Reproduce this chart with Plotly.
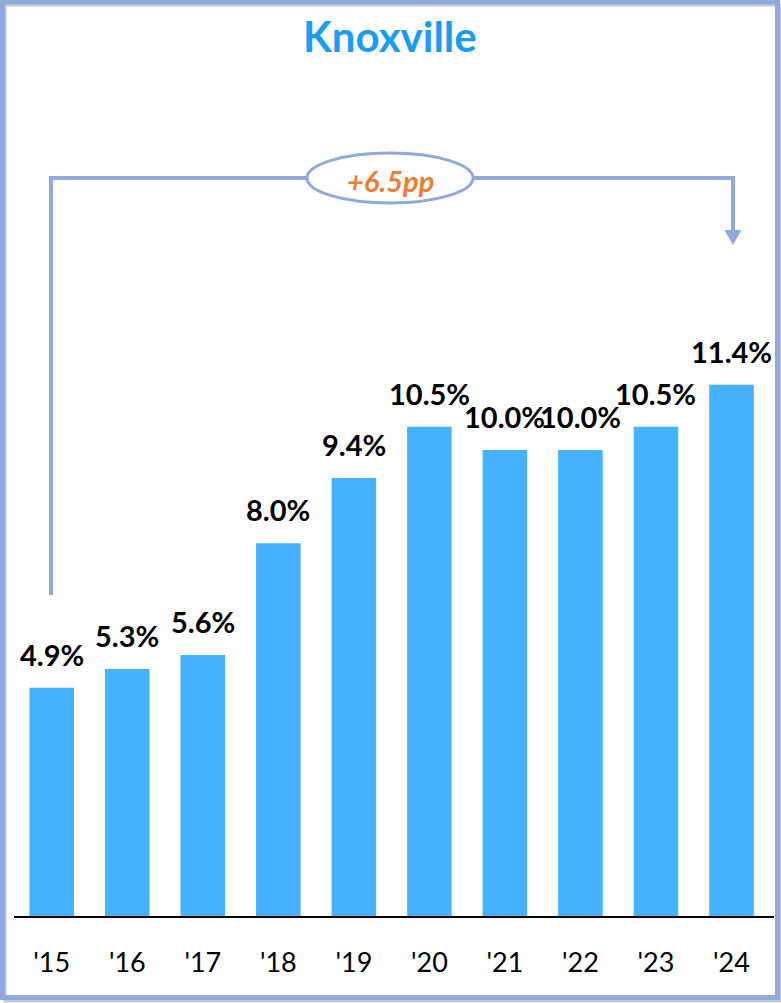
import plotly.graph_objects as go

# ---- data ----
categories = ["'15", "'16", "'17", "'18", "'19", "'20", "'21", "'22", "'23", "'24"]
values = [4.9, 5.3, 5.6, 8.0, 9.4, 10.5, 10.0, 10.0, 10.5, 11.4]
title_text = "Knoxville"
change_pp = round(values[-1] - values[0], 1)

# ---- layout geometry (pixels) ----
W, H = 781, 1003
ML, MR, MT, MB = 14, 7, 100, 87
PW, PH = W - ML - MR, H - MT - MB

def px(x):
    return (x - ML) / PW

def py(y):
    return (H - MB - y) / PH

BAR = "#45B1FF"
LINE = "#8EAADC"
ORANGE = "#ED7D31"
TITLE = "#1A9CF5"
FONT = "Lato"

fig = go.Figure()
fig.add_trace(go.Bar(
    x=categories, y=values, marker=dict(color=BAR, line=dict(width=0)),
    hoverinfo="skip", showlegend=False,
))

annotations = []
for c, v in zip(categories, values):
    annotations.append(dict(
        x=c, y=v, xref="x", yref="y", text=f"<b>{v:.1f}%</b>", showarrow=False,
        yanchor="bottom", xanchor="center", yshift=14,
        font=dict(family=FONT, size=29, color="black"),
    ))

annotations.append(dict(
    x=px(390), y=py(36), xref="paper", yref="paper", text=f"<b>{title_text}</b>",
    showarrow=False, xanchor="center", yanchor="middle",
    font=dict(family=FONT, size=42, color=TITLE),
))
annotations.append(dict(
    x=px(390), y=py(180), xref="paper", yref="paper", text=f"<b><i>+{change_pp}pp</i></b>",
    showarrow=False, xanchor="center", yanchor="middle",
    font=dict(family=FONT, size=29, color=ORANGE),
))

shapes = [
    # shadow and border
    dict(type="rect", xref="paper", yref="paper", x0=px(5), x1=px(780), y0=py(5), y1=py(1001),
         line=dict(color="#C8C8C8", width=3), layer="below"),
    dict(type="rect", xref="paper", yref="paper", x0=px(2.5), x1=px(777.5), y0=py(2), y1=py(997.5),
         line=dict(color="#8FAADC", width=5), layer="below"),
    # bracket
    dict(type="path", xref="paper", yref="paper",
         path=f"M {px(51)} {py(595)} L {px(51)} {py(178)} L {px(733)} {py(178)} L {px(733)} {py(232)}",
         line=dict(color=LINE, width=4)),
    dict(type="path", xref="paper", yref="paper",
         path=f"M {px(724.5)} {py(230)} L {px(741.5)} {py(230)} L {px(733)} {py(245)} Z",
         fillcolor=LINE, line=dict(color=LINE, width=0)),
    # ellipse
    dict(type="circle", xref="paper", yref="paper", x0=px(307), x1=px(473), y0=py(153), y1=py(203),
         fillcolor="white", line=dict(color=LINE, width=3)),
]

fig.update_layout(
    width=W, height=H, margin=dict(l=ML, r=MR, t=MT, b=MB),
    paper_bgcolor="white", plot_bgcolor="white",
    bargap=0.41, showlegend=False,
    annotations=annotations, shapes=shapes,
    xaxis=dict(showline=True, linecolor="black", linewidth=2, showgrid=False, zeroline=False,
               ticks="outside", ticklen=22, tickcolor="rgba(0,0,0,0)",
               tickfont=dict(family=FONT, size=27, color="black"), fixedrange=True),
    yaxis=dict(range=[0, PH / 46.6], visible=False, showgrid=False, zeroline=False, fixedrange=True),
)

fig.write_html("out.html")
